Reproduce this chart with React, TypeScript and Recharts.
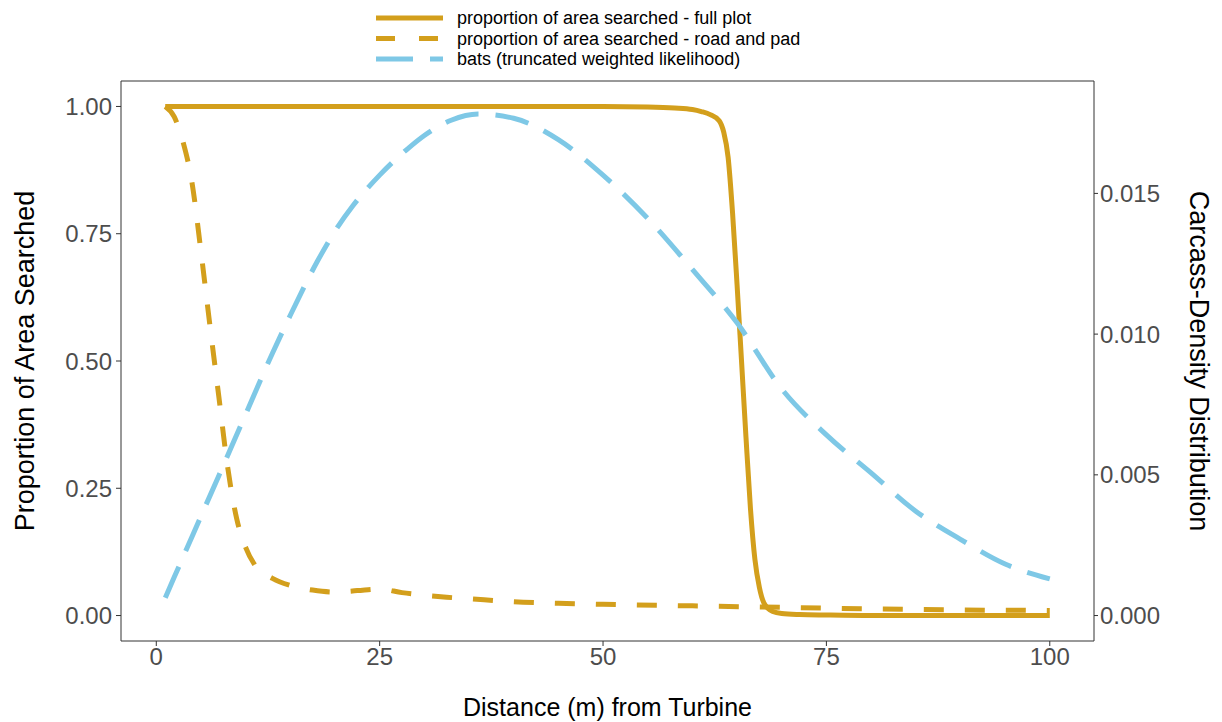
import { LineChart, Line, XAxis, YAxis, ReferenceArea } from "recharts";

// distance (m) from turbine, per series
const FULL_X = [1, 10, 20, 30, 40, 50, 55, 58, 60, 61, 62, 63, 63.5, 64, 64.5, 65, 65.5, 66, 66.5, 67, 67.5, 68, 69, 70, 72, 75, 80, 90, 100];
const FULL_Y = [1, 1, 1, 1, 1, 1, 0.999, 0.997, 0.994, 0.99, 0.984, 0.972, 0.95, 0.9, 0.79, 0.65, 0.5, 0.35, 0.21, 0.11, 0.055, 0.025, 0.008, 0.004, 0.002, 0.001, 0, 0, 0];

const ROAD_X = [1, 2, 3, 4, 5, 6, 7, 8, 9, 10, 11, 13, 15, 17.5, 20, 22.5, 25, 27.5, 30, 32.5, 35, 40, 45, 50, 60, 70, 80, 90, 100];
const ROAD_Y = [1, 0.98, 0.93, 0.85, 0.715, 0.57, 0.43, 0.29, 0.19, 0.134, 0.1, 0.073, 0.059, 0.05, 0.046, 0.049, 0.052, 0.045, 0.04, 0.036, 0.033, 0.027, 0.024, 0.022, 0.019, 0.016, 0.013, 0.011, 0.01];

const BATS_X = [1, 2, 3, 5, 7, 10, 13, 15, 18, 20, 22, 25, 28, 30, 33, 36, 40, 45, 50, 55, 60, 65, 70, 75, 80, 85, 90, 95, 100];
const BATS_DENSITY = [0.00063, 0.00136, 0.00208, 0.00353, 0.00497, 0.00715, 0.00932, 0.01067, 0.01257, 0.01366, 0.01456, 0.01565, 0.01655, 0.01706, 0.0176, 0.01782, 0.01767, 0.01691, 0.01565, 0.01411, 0.0123, 0.0104, 0.00805, 0.00642, 0.00507, 0.00371, 0.00271, 0.00183, 0.0013];

const X_TICKS = [0, 25, 50, 75, 100];
const LEFT_TICKS = [0, 0.25, 0.5, 0.75, 1];
const RIGHT_TICKS = [0, 0.005, 0.01, 0.015];

const GOLD = "#D39F1C";
const SKY = "#7EC8E6";
const FONT = '"Liberation Sans", Arial, Helvetica, sans-serif';
const DENSITY_MAX = 0.01809;

const LEGEND = [
  { label: "proportion of area searched - full plot", color: GOLD, dash: undefined },
  { label: "proportion of area searched - road and pad", color: GOLD, dash: "19 24" },
  { label: "bats (truncated weighted likelihood)", color: SKY, dash: "37 17" },
];

const rows = (xs: number[], ys: number[]) => xs.map((x, i) => ({ x, y: ys[i] }));

const tickStyle = { fill: "#4D4D4D", fontSize: 24, fontFamily: FONT };

export default function App() {
  return (
    <div style={{ position: "absolute", left: 0, top: 0, width: 1222, height: 722, background: "#fff", fontFamily: FONT }}>
      <LineChart width={1222} height={722} margin={{ top: 81, right: 0, bottom: 0, left: 0 }}>
        <XAxis
          type="number"
          dataKey="x"
          domain={[-3.95, 104.95]}
          ticks={X_TICKS}
          allowDataOverflow
          height={81}
          axisLine={false}
          tickLine={{ stroke: "#333" }}
          tickSize={5}
          tickMargin={2}
          tick={tickStyle}
          label={{ value: "Distance (m) from Turbine", position: "insideBottom", offset: 6, fill: "#000", fontSize: 25, fontFamily: FONT }}
        />
        <YAxis
          yAxisId="left"
          type="number"
          domain={[-0.05, 1.05]}
          ticks={LEFT_TICKS}
          allowDataOverflow
          width={121}
          axisLine={false}
          tickLine={{ stroke: "#333" }}
          tickSize={5}
          tickMargin={4}
          tick={tickStyle}
          tickFormatter={(v: number) => v.toFixed(2)}
          label={{ value: "Proportion of Area Searched", angle: -90, position: "insideLeft", offset: 24, fill: "#000", fontSize: 27, fontFamily: FONT, style: { textAnchor: "middle" } }}
        />
        <YAxis
          yAxisId="right"
          orientation="right"
          type="number"
          domain={[-0.05 * DENSITY_MAX, 1.05 * DENSITY_MAX]}
          ticks={RIGHT_TICKS}
          allowDataOverflow
          width={128}
          axisLine={false}
          tickLine={{ stroke: "#333" }}
          tickSize={4}
          tickMargin={2}
          tick={tickStyle}
          tickFormatter={(v: number) => v.toFixed(3)}
          label={{ value: "Carcass-Density Distribution", angle: 90, position: "insideRight", offset: 22, fill: "#000", fontSize: 27, fontFamily: FONT, style: { textAnchor: "middle" } }}
        />
        <ReferenceArea
          yAxisId="left"
          x1={-3.95}
          x2={104.95}
          y1={-0.05}
          y2={1.05}
          fill="none"
          stroke="#333"
          strokeWidth={1}
          ifOverflow="visible"
        />
        <Line
          yAxisId="left"
          data={rows(FULL_X, FULL_Y)}
          dataKey="y"
          type="monotone"
          stroke={GOLD}
          strokeWidth={5}
          dot={false}
          isAnimationActive={false}
        />
        <Line
          yAxisId="left"
          data={rows(ROAD_X, ROAD_Y)}
          dataKey="y"
          type="monotone"
          stroke={GOLD}
          strokeWidth={5}
          strokeDasharray="20 21"
          dot={false}
          isAnimationActive={false}
        />
        <Line
          yAxisId="right"
          data={rows(BATS_X, BATS_DENSITY)}
          dataKey="y"
          type="monotone"
          stroke={SKY}
          strokeWidth={5}
          strokeDasharray="34 17"
          dot={false}
          isAnimationActive={false}
        />
      </LineChart>
      <svg width={1222} height={78} style={{ position: "absolute", left: 0, top: 0, pointerEvents: "none" }}>
        {LEGEND.map((item, i) => (
          <g key={item.label}>
            <line
              x1={376}
              x2={443}
              y1={18 + i * 20.5}
              y2={18 + i * 20.5}
              stroke={item.color}
              strokeWidth={5}
              strokeDasharray={item.dash}
            />
            <text x={457} y={24 + i * 20.5} fontSize={18} fontFamily={FONT} fill="#000">
              {item.label}
            </text>
          </g>
        ))}
      </svg>
    </div>
  );
}
